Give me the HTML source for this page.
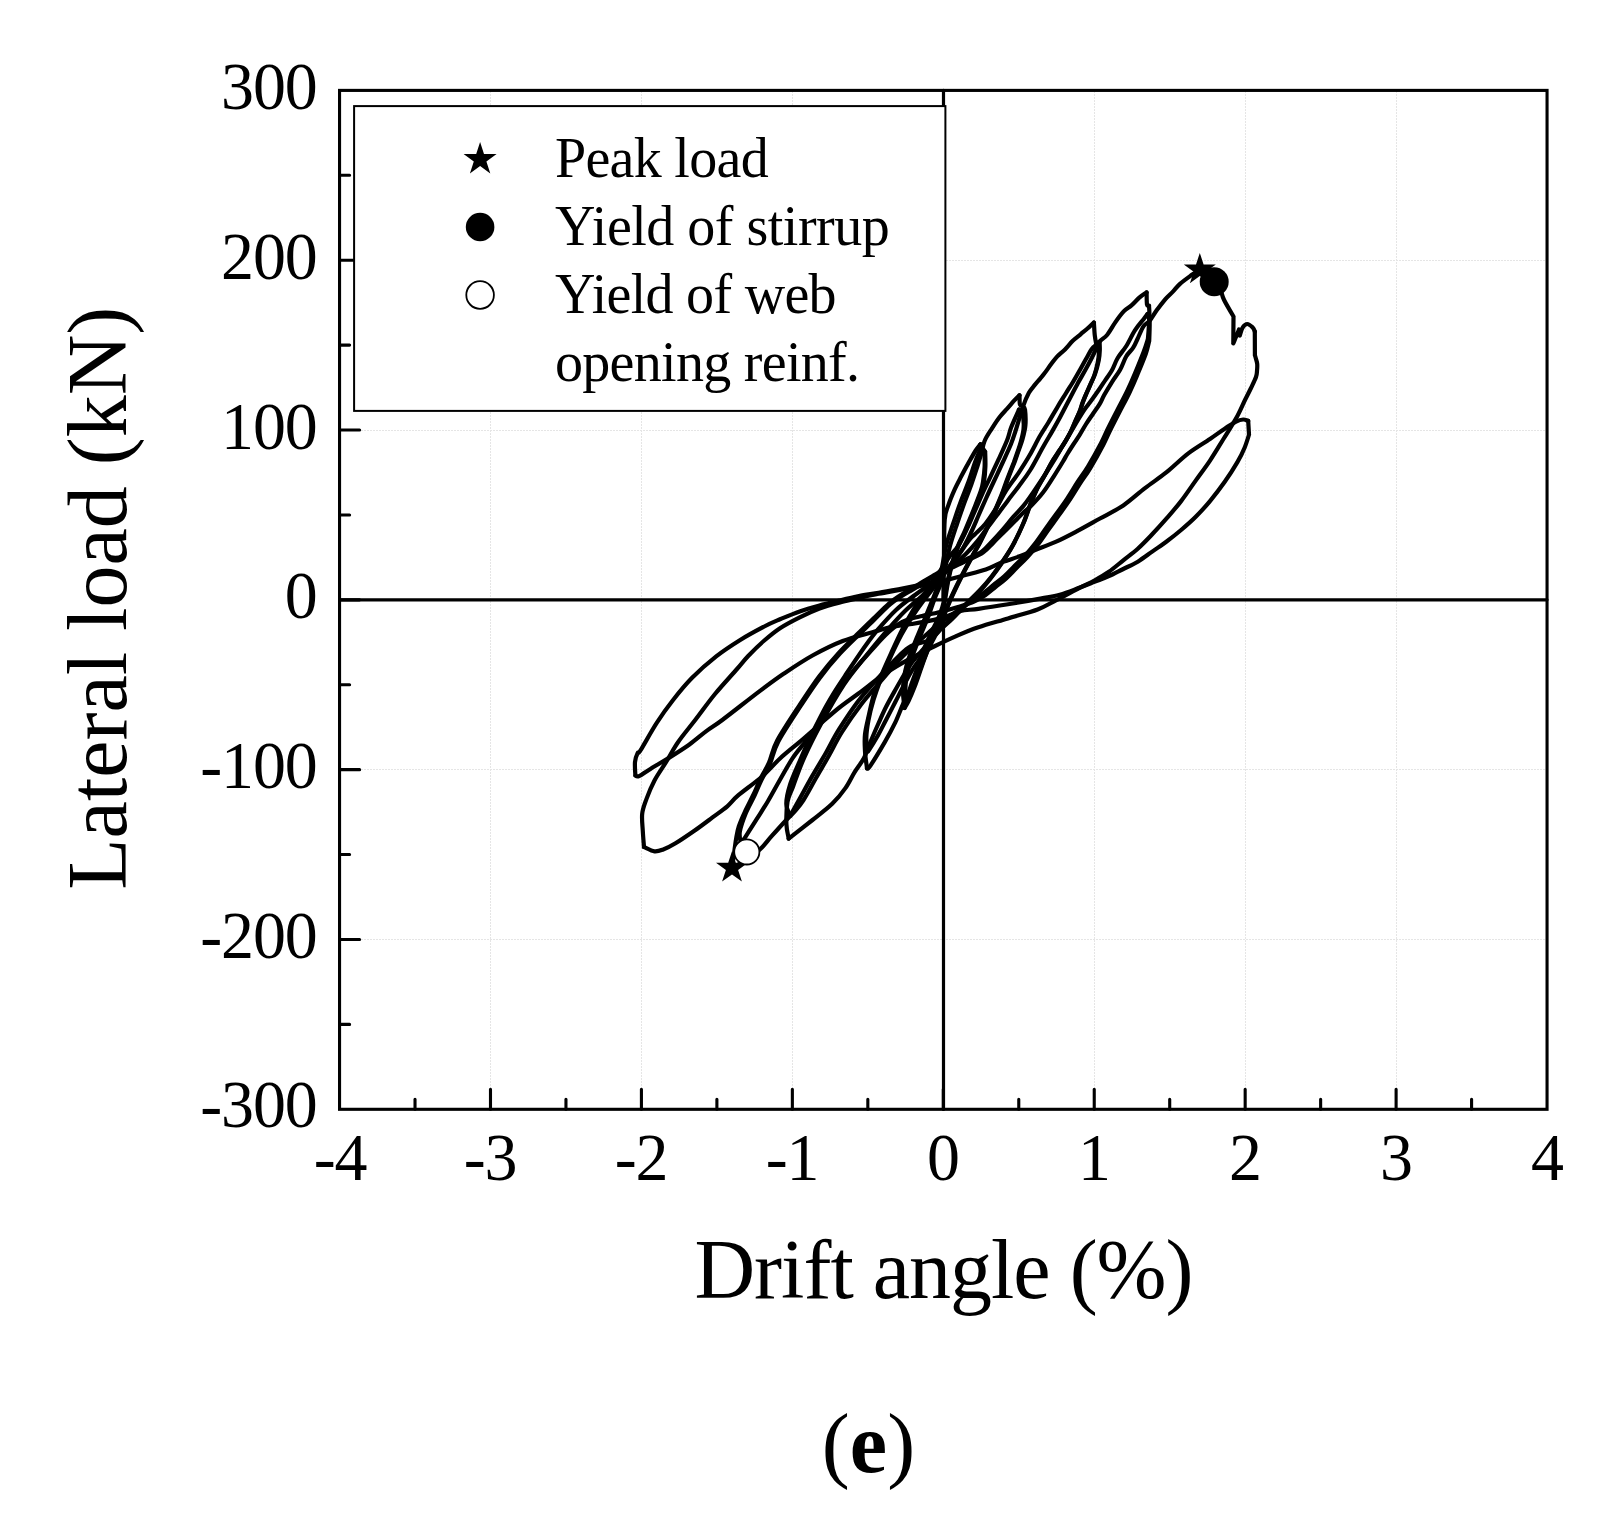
<!DOCTYPE html>
<html><head><meta charset="utf-8">
<style>
html,body{margin:0;padding:0;background:#fff;}
svg{display:block;}
text{font-family:"Liberation Serif",serif;fill:#000;}
</style></head><body>
<svg width="1622" height="1523" viewBox="0 0 1622 1523">
<rect width="1622" height="1523" fill="#fff"/>
<!-- GRID -->
<g id="grid" stroke="#e5e5e5" stroke-width="1" stroke-dasharray="2 1" fill="none" shape-rendering="crispEdges">
<path d="M490.5 91V1109M641.5 91V1109M792.5 91V1109M1094.5 91V1109M1245.5 91V1109M1396.5 91V1109"/>
<path d="M340 260.5H1547M340 430.5H1547M340 769.5H1547M340 939.5H1547"/>
</g>
<!-- AXES -->
<g id="axes" stroke="#000" stroke-width="3.1" fill="none" stroke-linecap="round">
<rect x="339.55" y="90.40" width="1207.50" height="1018.90" stroke-linejoin="miter"/>
<path d="M943.5 90.4V1109.3M339.6 599.85H1547.0" stroke-width="3.2"/>
<path d="M339.6 260.22h20M339.6 430.03h20M339.6 599.85h20M339.6 769.67h20M339.6 939.48h20"/>
<path d="M339.6 175.31h10M339.6 345.12h10M339.6 514.94h10M339.6 684.76h10M339.6 854.57h10M339.6 1024.39h10"/>
<path d="M490.49 1109.3v-20M641.42 1109.3v-20M792.36 1109.3v-20M943.30 1109.3v-20M1094.24 1109.3v-20M1245.17 1109.3v-20M1396.11 1109.3v-20"/>
<path d="M415.02 1109.3v-10M565.96 1109.3v-10M716.89 1109.3v-10M867.83 1109.3v-10M1018.77 1109.3v-10M1169.71 1109.3v-10M1320.64 1109.3v-10M1471.58 1109.3v-10"/>
</g>
<!-- CURVE -->
<g id="curve" stroke="#000" stroke-width="4.2" fill="none" stroke-linejoin="round" stroke-linecap="round">
<path d="M943.4 599.8C943.5 593.2 943.8 573.3 944.0 560.0C944.2 546.7 944.0 528.9 944.7 519.8C945.4 510.6 946.7 510.2 948.4 505.1C950.1 500.0 952.6 494.1 954.7 489.4C956.8 484.7 958.7 481.2 961.0 476.8C963.3 472.4 965.9 467.5 968.4 463.1C970.9 458.7 973.7 453.6 975.7 450.5C977.7 447.4 979.6 445.2 980.4 444.2"/>
<path d="M980.4 444.2C980.7 444.7 981.2 446.2 982.0 447.4C982.8 448.6 984.7 450.9 985.2 451.6M985.2 451.6C985.2 454.1 985.6 461.4 985.4 466.3C985.2 471.2 984.7 477.1 984.1 481.0C983.5 484.9 983.4 485.2 982.0 489.4C980.6 493.6 978.3 499.6 975.7 506.2C973.1 512.9 969.1 522.8 966.3 529.3C963.5 535.8 961.2 539.4 958.9 545.0C956.6 550.6 954.3 556.8 952.5 563.0C950.7 569.2 949.2 575.8 948.0 582.0C946.8 588.2 946.0 594.5 945.0 600.0C944.0 605.5 943.2 610.7 942.0 615.0C940.8 619.3 939.2 623.0 938.0 626.0C936.8 629.0 936.4 629.3 934.7 633.1C933.1 636.9 930.3 643.2 928.1 648.9C925.9 654.6 923.7 661.2 921.5 667.3C919.3 673.4 917.2 680.0 915.0 685.7C912.8 691.4 910.1 697.7 908.4 701.4C906.6 705.1 905.1 706.9 904.5 708.0"/>
<path d="M904.5 708.0C904.3 705.6 903.2 698.3 903.1 693.5C903.0 688.7 903.1 684.1 903.8 679.1C904.5 674.1 905.7 668.3 907.1 663.3C908.5 658.3 910.5 653.5 912.3 648.9C914.0 644.3 915.5 640.9 917.6 635.8C919.7 630.6 922.6 623.8 925.0 618.0C927.4 612.2 929.8 606.5 932.0 601.0C934.2 595.5 936.2 591.0 938.0 585.0C939.8 579.0 941.1 571.7 942.5 565.0C943.9 558.3 944.4 552.2 946.3 545.0C948.2 537.8 951.2 529.2 953.7 521.9C956.2 514.5 958.5 507.5 961.0 500.9C963.5 494.2 966.1 488.3 968.4 482.0C970.7 475.7 973.0 468.0 974.7 463.1C976.5 458.2 977.8 455.1 978.9 452.6C980.0 450.1 981.1 448.8 981.5 448.0"/>
<path d="M981.5 448.0L984.5 453.0M984.5 453.0C984.5 455.3 984.9 462.2 984.6 467.0C984.4 471.8 983.6 478.0 983.0 482.0C982.4 486.0 982.2 486.8 980.8 491.0C979.4 495.2 977.1 500.9 974.5 507.5C971.9 514.1 967.8 523.9 965.0 530.5C962.2 537.1 959.8 541.2 957.5 547.0C955.2 552.8 953.2 558.8 951.5 565.0C949.8 571.2 948.2 578.0 947.0 584.0C945.8 590.0 945.2 596.0 944.0 601.0C942.8 606.0 941.5 610.0 940.0 614.0C938.5 618.0 936.6 621.7 935.0 625.0C933.4 628.3 932.3 630.0 930.5 634.0C928.7 638.0 926.2 643.4 924.0 649.0C921.8 654.6 919.6 661.7 917.5 667.5C915.4 673.3 913.2 678.9 911.5 684.0C909.8 689.1 908.0 694.7 907.0 698.0C906.0 701.3 905.8 703.0 905.5 704.0"/>
<path d="M905.5 704.0C905.5 701.8 905.1 695.5 905.3 691.0C905.5 686.5 905.6 681.9 906.5 677.0C907.4 672.1 909.0 666.5 910.5 661.5C912.0 656.5 914.0 651.8 915.8 647.0C917.6 642.2 919.4 638.2 921.5 633.0C923.6 627.8 926.3 621.7 928.5 616.0C930.7 610.3 932.4 604.5 934.5 599.0C936.6 593.5 939.1 588.8 941.0 583.0C942.9 577.2 944.5 570.2 946.0 564.0C947.5 557.8 948.2 552.7 950.0 546.0C951.8 539.3 954.6 531.2 957.0 524.0C959.4 516.8 961.9 509.7 964.3 503.0C966.7 496.3 969.3 490.2 971.5 484.0C973.7 477.8 975.8 471.2 977.5 466.0C979.2 460.8 980.3 457.1 981.5 453.0C982.7 448.9 982.9 445.1 984.5 441.2C986.1 437.2 988.9 433.2 991.4 429.3C993.9 425.4 996.7 420.9 999.3 417.5C1001.9 414.1 1004.7 411.4 1007.2 408.6C1009.7 405.8 1012.1 402.9 1014.1 400.7C1016.1 398.5 1018.6 396.2 1019.5 395.3"/>
<path d="M1019.5 395.3C1019.6 396.9 1019.4 402.8 1020.0 404.7C1020.6 406.6 1022.5 406.3 1023.0 406.6M1023.0 406.6C1023.3 407.1 1024.6 406.5 1025.0 409.6C1025.4 412.7 1025.8 420.5 1025.4 425.4C1025.0 430.3 1023.6 435.1 1022.5 439.2C1021.4 443.3 1020.0 446.4 1018.8 450.0C1017.5 453.6 1016.2 457.7 1015.0 461.0C1013.8 464.3 1012.7 466.7 1011.4 470.0C1010.1 473.3 1008.6 477.2 1007.2 481.0C1005.8 484.8 1004.6 488.5 1003.0 492.5C1001.4 496.5 999.5 500.9 997.8 505.1C996.0 509.3 994.4 513.5 992.5 517.7C990.6 521.9 988.3 526.1 986.2 530.3C984.1 534.5 982.4 538.3 979.9 542.9C977.4 547.5 974.2 553.0 971.5 558.0C968.8 563.0 966.0 568.2 963.5 573.0C961.0 577.8 958.7 582.5 956.5 587.0C954.3 591.5 952.3 595.8 950.5 600.0C948.7 604.2 947.2 608.0 945.5 612.0C943.8 616.0 942.2 620.2 940.5 624.0C938.8 627.8 937.1 631.6 935.5 635.0C933.9 638.4 932.4 641.1 930.7 644.5C929.0 647.9 927.7 650.4 925.5 655.5C923.3 660.6 920.2 669.5 917.6 675.2C915.0 681.0 912.4 685.2 910.0 690.0C907.6 694.8 905.6 698.6 903.1 704.0C900.6 709.4 898.3 716.0 895.3 722.4C892.2 728.8 889.0 734.9 884.8 742.1C880.6 749.3 873.3 761.4 870.3 765.8C867.3 770.2 867.5 768.0 867.0 768.4"/>
<path d="M867.0 768.4C866.7 765.5 865.3 757.0 865.0 751.3C864.7 745.6 864.3 740.3 865.0 734.2C865.7 728.1 867.5 721.3 869.0 714.5C870.5 707.7 872.2 699.8 874.2 693.5C876.2 687.2 877.9 683.3 880.8 676.5C883.6 669.7 887.8 660.5 891.3 652.8C894.8 645.1 898.3 637.3 901.8 630.5C905.2 623.7 908.6 617.6 912.0 612.0C915.4 606.4 918.7 601.8 922.0 597.0C925.3 592.2 928.7 587.8 932.0 583.0C935.3 578.2 939.0 572.5 942.0 568.0C945.0 563.5 947.2 559.8 950.0 556.0C952.8 552.2 956.0 549.6 958.9 545.0C961.8 540.4 964.7 533.8 967.3 528.2C969.9 522.6 972.2 517.0 974.7 511.4C977.2 505.8 979.4 500.4 982.0 494.6C984.6 488.8 987.6 482.8 990.4 476.8C993.2 470.9 996.0 465.0 998.8 458.9C1001.6 452.8 1005.1 445.3 1007.2 440.0C1009.3 434.7 1009.2 432.4 1011.2 427.3C1013.2 422.2 1017.7 412.6 1019.0 409.6"/>
<path d="M1019.0 409.6C1019.6 410.3 1021.7 410.9 1022.5 414.0C1023.3 417.1 1023.9 423.5 1023.6 428.0C1023.4 432.5 1022.0 437.0 1021.0 441.0C1020.0 445.0 1018.7 448.4 1017.5 452.0C1016.3 455.6 1015.0 459.2 1013.8 462.5C1012.5 465.8 1011.3 468.7 1010.0 472.0C1008.7 475.3 1007.4 478.8 1006.0 482.5C1004.6 486.2 1003.4 490.0 1001.8 494.0C1000.2 498.0 998.4 502.4 996.6 506.6C994.9 510.8 993.2 515.0 991.3 519.2C989.4 523.4 987.1 527.6 985.0 531.8C982.9 536.0 981.2 539.8 978.7 544.4C976.2 549.0 973.0 554.5 970.3 559.5C967.6 564.5 964.8 569.7 962.3 574.5C959.8 579.3 957.4 584.1 955.3 588.5C953.2 592.9 951.3 596.9 949.5 601.0C947.7 605.1 946.2 609.1 944.5 613.0C942.8 616.9 941.2 620.7 939.3 624.5C937.4 628.3 935.2 632.1 933.0 636.0C930.8 639.9 928.3 644.0 926.0 648.0C923.7 652.0 921.3 656.3 919.0 660.0C916.7 663.7 914.7 666.0 912.3 670.0C909.9 674.0 907.3 678.7 904.5 684.0C901.7 689.3 898.4 696.0 895.3 702.0C892.2 708.0 888.9 714.5 886.0 720.0C883.1 725.5 881.0 730.0 878.2 735.0C875.4 740.0 870.8 747.3 869.0 750.0C867.2 752.7 867.9 751.1 867.7 751.3"/>
<path d="M867.7 751.3C867.5 749.1 866.2 743.2 866.3 738.0C866.4 732.8 867.3 726.3 868.5 720.0C869.7 713.7 871.5 706.7 873.5 700.0C875.5 693.3 877.7 687.2 880.5 680.0C883.3 672.8 887.0 664.6 890.5 657.0C894.0 649.4 897.8 641.4 901.5 634.5C905.2 627.6 909.2 621.2 913.0 615.5C916.8 609.8 920.4 604.8 924.0 600.0C927.6 595.2 931.0 591.1 934.5 586.5C938.0 581.9 941.8 576.8 945.0 572.5C948.2 568.2 950.6 564.4 953.5 560.5C956.4 556.6 959.6 553.7 962.5 549.0C965.4 544.3 968.3 538.1 971.0 532.5C973.7 526.9 976.0 521.2 978.5 515.5C981.0 509.8 983.4 504.3 986.0 498.5C988.6 492.7 991.5 486.5 994.3 480.5C997.1 474.5 999.9 468.6 1002.7 462.5C1005.5 456.4 1008.9 449.2 1011.0 444.0C1013.1 438.8 1013.5 437.2 1015.5 431.0C1017.5 424.8 1020.8 413.0 1023.0 406.6C1025.2 400.2 1026.9 396.4 1028.9 392.8C1030.9 389.2 1033.0 387.2 1034.8 384.9C1036.6 382.6 1038.4 380.7 1040.0 378.8C1041.6 376.9 1042.4 376.1 1044.3 373.6C1046.2 371.2 1049.0 367.0 1051.2 364.1C1053.4 361.2 1055.0 358.8 1057.3 356.3C1059.6 353.9 1062.4 352.0 1065.0 349.4C1067.6 346.8 1070.2 343.3 1072.8 340.8C1075.4 338.3 1078.0 336.5 1080.6 334.3C1083.2 332.1 1086.1 329.8 1088.3 327.8C1090.5 325.9 1093.0 323.5 1093.9 322.6"/>
<path d="M1093.9 322.6C1094.1 324.8 1094.4 332.1 1094.8 335.6C1095.2 339.1 1095.9 342.1 1096.1 343.4M1096.1 343.4L1099.6 341.6M1099.6 341.6C1099.6 343.1 1099.9 347.1 1099.8 350.3C1099.7 353.5 1099.5 356.7 1098.7 360.6C1097.9 364.5 1096.5 369.9 1095.2 373.6C1093.9 377.3 1092.4 379.9 1091.1 383.0C1089.8 386.1 1088.4 388.9 1087.1 392.0C1085.8 395.1 1084.3 398.6 1083.2 401.5C1082.1 404.4 1081.8 406.3 1080.6 409.4C1079.4 412.5 1077.4 416.6 1076.0 419.9C1074.6 423.2 1073.6 425.8 1072.0 429.1C1070.4 432.4 1068.4 436.1 1066.4 439.5C1064.4 442.9 1062.2 446.1 1060.0 449.5C1057.8 452.9 1055.5 455.8 1053.0 460.0C1050.5 464.2 1047.7 469.9 1045.0 474.7C1042.3 479.5 1039.3 484.3 1037.0 489.0C1034.7 493.7 1033.2 497.5 1031.0 503.0C1028.8 508.5 1026.9 515.2 1024.0 522.0C1021.1 528.8 1017.0 537.5 1013.5 544.0C1010.0 550.5 1006.6 555.5 1003.0 560.8C999.4 566.1 995.7 571.3 992.0 576.0C988.3 580.7 984.7 585.0 981.0 589.0C977.3 593.0 973.5 596.5 970.0 600.0C966.5 603.5 963.2 606.8 960.0 610.0C956.8 613.2 953.8 616.3 951.0 619.0C948.2 621.7 946.3 623.2 943.5 626.0C940.7 628.8 937.1 632.5 934.0 636.0C930.9 639.5 928.6 642.7 925.0 647.0C921.4 651.3 915.7 657.5 912.3 662.0C908.9 666.5 907.3 669.3 904.5 674.0C901.7 678.7 898.4 684.5 895.3 690.0C892.2 695.5 888.9 701.3 886.0 707.0C883.1 712.7 880.9 718.0 878.2 724.0C875.5 730.0 872.4 737.3 870.0 743.0C867.6 748.7 866.6 753.1 864.0 758.0C861.4 762.9 857.6 767.3 854.5 772.3C851.4 777.3 849.1 782.9 845.4 788.1C841.7 793.4 837.7 798.5 832.2 803.8C826.7 809.1 819.8 814.2 812.5 820.0C805.2 825.8 792.7 835.5 788.7 838.6"/>
<path d="M788.7 838.6C788.3 836.2 786.6 830.2 786.4 824.1C786.2 818.0 786.4 808.3 787.5 802.0C788.6 795.7 790.3 793.8 793.1 786.4C795.9 779.0 799.4 768.3 804.2 757.6C809.0 746.9 815.4 734.2 822.0 722.0C828.6 709.8 836.7 695.4 844.1 684.3C851.5 673.2 858.9 664.8 866.3 655.5C873.7 646.2 882.0 636.2 888.5 628.8C895.0 621.4 899.4 616.5 905.0 611.0C910.6 605.5 916.5 601.0 922.0 596.0C927.5 591.0 932.8 586.5 938.0 581.0C943.2 575.5 947.9 569.7 953.0 563.0C958.1 556.3 964.8 545.6 968.4 540.9C972.0 536.1 971.9 537.3 974.7 534.5C977.5 531.7 981.5 528.5 985.2 524.0C988.9 519.5 993.2 512.8 996.7 507.2C1000.2 501.6 1002.5 496.2 1006.2 490.4C1009.9 484.6 1014.9 478.4 1018.8 472.6C1022.6 466.8 1025.8 461.9 1029.3 455.8C1032.8 449.8 1036.6 441.9 1039.8 436.3C1043.0 430.8 1045.4 427.4 1048.4 422.5C1051.4 417.6 1054.6 411.7 1057.6 406.8C1060.5 401.9 1063.6 397.1 1066.1 393.0C1068.6 388.9 1070.4 386.3 1072.7 382.5C1075.0 378.7 1077.7 373.9 1079.9 370.0C1082.1 366.1 1084.0 362.5 1086.0 359.0C1088.0 355.5 1090.1 351.3 1091.8 349.0C1093.5 346.7 1095.4 345.7 1096.1 345.0"/>
<path d="M1096.1 345.0C1096.5 346.2 1098.5 349.1 1098.8 352.0C1099.1 354.9 1098.5 358.7 1097.7 362.6C1096.9 366.5 1095.5 371.9 1094.2 375.6C1092.9 379.3 1091.4 381.9 1090.1 385.0C1088.8 388.1 1087.4 390.9 1086.1 394.0C1084.8 397.1 1083.3 400.6 1082.2 403.5C1081.1 406.4 1080.8 408.3 1079.6 411.4C1078.4 414.5 1076.4 418.6 1075.0 421.9C1073.6 425.2 1072.6 427.8 1071.0 431.1C1069.4 434.4 1067.4 438.1 1065.4 441.5C1063.4 444.9 1061.2 448.1 1059.0 451.5C1056.8 454.9 1054.5 457.8 1052.0 462.0C1049.5 466.2 1046.7 471.9 1044.0 476.7C1041.3 481.5 1038.3 486.3 1036.0 491.0C1033.7 495.7 1032.2 499.5 1030.0 505.0C1027.8 510.5 1025.9 517.2 1023.0 524.0C1020.1 530.8 1016.0 539.5 1012.5 546.0C1009.0 552.5 1005.6 557.5 1002.0 562.8C998.4 568.1 994.7 573.3 991.0 578.0C987.3 582.7 983.7 587.0 980.0 591.0C976.3 595.0 972.5 598.5 969.0 602.0C965.5 605.5 962.2 608.8 959.0 612.0C955.8 615.2 952.8 618.3 950.0 621.0C947.2 623.7 945.3 624.9 942.0 628.0C938.7 631.1 935.2 636.7 930.0 639.7C924.8 642.7 916.4 643.1 911.0 646.0C905.6 648.9 903.4 651.7 897.9 657.0C892.4 662.3 884.8 670.7 878.2 678.0C871.6 685.3 865.1 692.2 858.5 700.8C851.9 709.4 844.3 721.0 838.8 729.7C833.3 738.5 830.1 745.6 825.7 753.3C821.3 760.9 816.9 767.9 812.5 775.6C808.1 783.3 803.1 792.6 799.4 799.3C795.7 806.0 791.7 813.0 790.2 815.7"/>
<path d="M790.2 815.7C789.6 813.7 786.3 809.0 786.3 803.8C786.3 798.5 788.0 791.2 790.2 784.2C792.4 777.2 796.1 769.5 799.4 761.8C802.7 754.1 806.0 746.5 809.9 738.2C813.8 729.9 819.1 719.4 823.0 711.9C826.9 704.4 829.8 699.6 833.5 693.5C837.2 687.4 840.1 683.1 845.4 675.2C850.7 667.3 859.6 654.0 865.1 646.3C870.6 638.6 873.1 635.2 878.2 629.2C883.4 623.2 889.9 615.7 896.0 610.0C902.1 604.3 908.8 599.7 915.0 595.0C921.2 590.3 927.2 586.5 933.0 582.0C938.8 577.5 944.5 572.8 950.0 568.0C955.5 563.2 961.8 557.9 966.3 553.5C970.8 549.1 973.5 545.9 976.8 541.9C980.1 537.9 982.9 533.7 986.2 529.3C989.5 524.9 993.0 520.5 996.7 515.6C1000.4 510.7 1004.6 504.8 1008.3 499.9C1012.0 495.0 1015.2 491.1 1018.8 486.2C1022.4 481.3 1026.0 476.9 1030.0 470.5C1034.0 464.1 1039.2 453.9 1042.8 447.5C1046.4 441.1 1048.6 437.6 1051.6 432.4C1054.6 427.1 1057.8 421.5 1060.7 416.0C1063.7 410.5 1066.5 404.8 1069.3 399.5C1072.0 394.2 1074.5 389.3 1077.2 384.4C1079.9 379.5 1082.9 374.3 1085.3 370.0C1087.7 365.7 1089.7 362.0 1091.5 358.5C1093.3 355.0 1094.7 351.8 1096.0 349.0C1097.3 346.2 1097.7 344.0 1099.6 341.6C1101.5 339.2 1104.7 337.9 1107.3 334.7C1109.9 331.5 1112.4 326.5 1115.1 322.6C1117.8 318.7 1121.0 314.3 1123.7 311.4C1126.4 308.5 1128.9 307.7 1131.5 305.4C1134.1 303.1 1136.8 299.8 1139.3 297.6C1141.8 295.4 1145.4 293.3 1146.6 292.4"/>
<path d="M1146.6 292.4C1146.7 294.4 1146.6 302.3 1147.0 304.5C1147.4 306.7 1148.7 305.3 1149.0 305.5M1149.0 305.5C1149.1 307.5 1149.6 311.9 1149.4 317.5C1149.2 323.1 1148.2 335.4 1147.9 339.0M1147.9 339.0C1147.2 341.2 1145.8 346.2 1143.6 352.0C1141.4 357.8 1137.6 367.1 1134.9 373.6C1132.2 380.1 1130.1 384.9 1127.2 391.0C1124.3 397.1 1120.7 403.6 1117.4 410.0C1114.1 416.4 1110.2 424.0 1107.5 429.5C1104.8 435.0 1104.2 437.1 1101.0 443.2C1097.8 449.3 1092.0 459.8 1088.1 466.3C1084.2 472.8 1081.1 476.6 1077.6 482.0C1074.1 487.4 1070.5 493.6 1067.0 498.8C1063.5 504.1 1060.1 508.6 1056.6 513.5C1053.1 518.4 1049.5 523.3 1046.0 528.2C1042.5 533.1 1039.0 538.4 1035.5 543.0C1032.0 547.6 1028.5 551.8 1025.0 555.6C1021.5 559.4 1018.0 562.5 1014.5 566.0C1011.0 569.5 1007.5 573.4 1004.0 576.6C1000.5 579.8 997.0 582.2 993.5 585.0C990.0 587.8 986.6 590.7 983.0 593.4C979.4 596.1 975.8 598.4 972.0 601.0C968.2 603.6 963.9 606.3 960.0 609.0C956.1 611.7 952.8 614.2 948.8 617.0C944.8 619.8 941.6 621.3 936.0 626.0C930.4 630.7 921.0 639.5 915.0 645.0C909.0 650.5 905.7 653.0 900.0 659.0C894.3 665.0 887.4 673.5 881.0 681.0C874.6 688.5 868.0 695.5 861.5 704.0C855.0 712.5 847.4 723.4 842.0 732.0C836.6 740.6 833.3 747.8 829.0 755.5C824.7 763.2 820.2 770.6 816.0 778.0C811.8 785.4 807.0 794.5 803.5 800.0C800.0 805.5 797.9 807.7 795.0 811.0C792.1 814.3 790.2 815.8 786.3 820.0C782.4 824.2 775.9 831.4 771.6 836.2C767.3 841.0 764.7 845.0 760.4 849.0C756.1 853.0 750.7 856.8 746.0 860.0C741.3 863.2 734.3 866.7 732.0 868.0"/>
<path d="M732.0 868.0C732.4 865.0 733.8 855.0 734.5 850.0C735.2 845.0 735.6 841.6 736.3 837.7C737.0 833.8 737.4 830.8 738.8 826.5C740.2 822.2 742.4 817.1 744.9 811.8C747.4 806.5 750.9 800.0 753.5 794.5C756.1 789.0 757.8 784.3 760.4 779.0C763.0 773.7 766.2 769.0 769.0 762.6C771.8 756.2 772.0 750.3 777.1 740.8C782.2 731.3 792.4 716.1 799.4 705.4C806.4 694.7 812.5 685.3 819.1 676.5C825.7 667.7 832.2 660.0 838.8 652.8C845.4 645.6 852.8 638.7 858.5 633.1C864.2 627.5 867.8 623.9 872.9 619.0C878.0 614.1 884.5 607.4 889.0 603.5C893.5 599.6 896.2 598.0 900.0 595.5C903.8 593.0 908.0 590.9 912.0 588.5C916.0 586.1 920.0 583.4 924.0 581.0C928.0 578.6 931.7 576.3 936.0 574.0C940.3 571.7 945.0 569.4 950.0 567.0C955.0 564.6 960.7 562.1 966.0 559.5C971.3 556.9 977.6 554.5 982.0 551.4C986.4 548.3 989.0 544.6 992.5 540.9C996.0 537.2 999.5 533.3 1003.0 529.3C1006.5 525.3 1010.0 520.7 1013.5 516.7C1017.0 512.7 1020.5 509.5 1024.0 505.1C1027.5 500.7 1031.0 495.5 1034.5 490.4C1038.0 485.3 1041.5 480.1 1045.0 474.7C1048.5 469.3 1052.8 462.5 1055.6 457.9C1058.4 453.3 1059.9 450.5 1062.0 447.0C1064.1 443.5 1065.8 440.7 1068.0 437.0C1070.2 433.3 1072.6 429.1 1075.0 425.0C1077.4 420.9 1080.6 415.7 1082.5 412.7C1084.4 409.7 1084.8 409.1 1086.5 406.8C1088.2 404.5 1090.3 401.8 1092.4 398.9C1094.5 396.0 1096.7 392.9 1098.9 389.7C1101.1 386.5 1103.3 383.1 1105.5 379.8C1107.7 376.5 1110.1 373.6 1112.1 370.0C1114.1 366.4 1115.3 362.0 1117.7 358.0C1120.1 354.0 1123.4 350.6 1126.3 346.0C1129.2 341.4 1132.0 334.9 1134.9 330.4C1137.8 325.9 1141.5 321.9 1143.6 319.2C1145.7 316.5 1146.8 314.9 1147.5 314.0"/>
<path d="M1147.5 314.0C1147.8 315.3 1149.3 317.5 1149.6 322.0C1149.9 326.5 1149.3 337.8 1149.2 341.0M1149.2 341.0C1148.6 343.1 1147.8 348.1 1145.8 353.8C1143.8 359.5 1139.8 368.9 1137.1 375.4C1134.4 381.9 1132.3 386.7 1129.4 392.8C1126.5 398.9 1122.9 405.4 1119.6 411.8C1116.3 418.2 1112.4 425.8 1109.7 431.3C1107.0 436.8 1106.4 438.9 1103.2 445.0C1100.0 451.1 1094.2 461.6 1090.3 468.1C1086.4 474.6 1083.3 478.4 1079.8 483.8C1076.3 489.2 1072.7 495.4 1069.2 500.6C1065.7 505.9 1062.3 510.4 1058.8 515.3C1055.3 520.2 1051.7 525.1 1048.2 530.0C1044.7 534.9 1041.2 540.2 1037.7 544.8C1034.2 549.4 1030.7 553.6 1027.2 557.4C1023.7 561.2 1020.2 564.3 1016.7 567.8C1013.2 571.3 1009.7 575.2 1006.2 578.4C1002.7 581.6 999.2 584.0 995.7 586.8C992.2 589.6 988.8 592.7 985.2 595.2C981.6 597.6 978.5 599.5 974.0 601.5C969.5 603.5 963.7 605.2 958.0 607.0C952.3 608.8 946.0 610.5 940.0 612.0C934.0 613.5 927.3 614.8 922.0 616.0C916.7 617.2 912.0 618.1 908.0 619.5C904.0 620.9 901.8 621.9 897.9 624.6C894.0 627.3 889.2 631.5 884.8 635.8C880.4 640.1 877.1 644.1 871.6 650.2C866.1 656.3 858.5 664.2 851.9 672.5C845.3 680.8 837.7 691.8 832.2 700.1C826.7 708.4 823.5 715.6 819.1 722.4C814.7 729.2 810.4 734.9 806.0 740.8C801.6 746.7 797.2 751.3 792.8 757.9C788.4 764.5 783.9 773.0 779.7 780.2C775.6 787.4 771.7 794.8 767.9 801.2C764.1 807.6 760.8 812.6 757.0 818.7C753.2 824.8 747.6 833.5 744.9 837.7C742.2 841.9 741.6 843.0 741.0 844.0"/>
<path d="M741.0 844.0C740.8 842.0 739.0 837.2 739.8 832.0C740.6 826.8 743.4 819.1 745.9 813.0C748.4 806.9 751.9 801.1 754.5 795.6C757.1 790.1 758.8 785.3 761.4 780.0C764.0 774.7 767.2 770.0 770.0 763.6C772.8 757.2 773.1 751.3 778.2 741.7C783.3 732.1 793.5 716.9 800.5 706.2C807.5 695.5 813.6 686.1 820.2 677.4C826.8 668.6 833.3 660.9 839.9 653.7C846.5 646.5 853.9 639.6 859.6 634.0C865.3 628.4 868.9 624.8 874.0 619.9C879.1 615.0 885.5 608.4 890.0 604.5C894.5 600.6 897.2 599.0 901.0 596.5C904.8 594.0 909.0 591.9 913.0 589.5C917.0 587.1 921.0 584.4 925.0 582.0C929.0 579.6 932.7 577.3 937.0 575.0C941.3 572.7 946.0 570.4 951.0 568.0C956.0 565.6 961.7 563.1 967.0 560.5C972.3 557.9 978.6 555.6 983.0 552.6C987.4 549.6 990.0 545.9 993.6 542.4C997.2 538.9 1000.9 535.1 1004.5 531.5C1008.1 527.9 1011.8 524.2 1015.0 521.0C1018.2 517.8 1021.3 514.6 1024.0 512.0C1026.7 509.4 1028.2 508.8 1031.4 505.5C1034.6 502.2 1039.3 497.3 1043.0 492.5C1046.7 487.7 1050.2 482.0 1053.5 476.8C1056.8 471.6 1060.8 465.2 1063.0 461.5C1065.2 457.8 1065.3 457.3 1067.0 454.5C1068.7 451.7 1071.3 447.6 1073.3 444.5C1075.3 441.4 1077.1 439.0 1079.2 435.7C1081.3 432.4 1083.6 428.0 1085.8 424.5C1088.0 421.0 1090.1 418.1 1092.4 414.7C1094.7 411.3 1097.6 407.4 1099.6 404.1C1101.6 400.8 1102.1 398.7 1104.2 395.0C1106.3 391.3 1109.5 386.0 1112.1 381.8C1114.7 377.6 1117.6 374.2 1120.0 370.0C1122.4 365.8 1124.1 360.0 1126.3 356.3C1128.5 352.6 1131.3 350.6 1133.2 347.7C1135.1 344.8 1135.8 342.6 1137.5 339.0C1139.2 335.4 1141.6 329.1 1143.6 326.1C1145.6 323.1 1147.4 323.5 1149.6 320.9C1151.8 318.3 1153.9 314.2 1156.5 310.6C1159.1 307.0 1162.5 302.5 1165.2 299.3C1167.9 296.1 1170.4 294.2 1172.9 291.6C1175.4 289.0 1176.8 286.6 1180.0 283.8C1183.2 281.0 1188.6 277.2 1191.9 274.8C1195.2 272.4 1198.5 270.6 1199.8 269.7M1199.8 269.7C1202.2 271.7 1210.6 278.0 1214.2 281.8C1217.8 285.6 1220.3 290.7 1221.5 292.5M1221.5 292.5C1221.9 293.8 1222.1 296.0 1224.1 300.0C1226.1 304.0 1231.9 313.8 1233.5 316.5M1233.5 316.5L1233.3 343.3M1233.3 343.3C1233.8 342.2 1235.0 339.3 1236.0 337.0C1237.0 334.7 1238.5 330.8 1239.0 329.5M1239.0 329.5L1239.8 335.5M1239.8 335.5C1240.3 334.2 1241.3 329.5 1242.6 327.6C1243.8 325.7 1245.6 324.0 1247.3 324.0C1249.0 324.0 1251.5 326.4 1252.8 327.6C1254.0 328.9 1254.5 330.9 1254.8 331.5"/>
<path d="M1254.8 331.5L1254.9 355.2M1254.9 355.2C1255.1 355.8 1255.6 357.5 1256.0 359.0C1256.4 360.5 1257.0 362.0 1257.2 364.0C1257.4 366.0 1257.2 368.8 1257.0 371.0C1256.8 373.2 1257.0 374.2 1256.0 377.0C1255.0 379.8 1252.8 384.2 1251.0 388.0C1249.2 391.8 1247.3 395.4 1245.0 400.0C1242.7 404.6 1240.8 409.6 1237.4 415.9C1234.0 422.1 1229.0 430.1 1224.4 437.5C1219.8 444.9 1214.8 453.4 1210.0 460.6C1205.2 467.8 1200.3 474.1 1195.5 480.9C1190.7 487.6 1185.9 494.9 1181.1 501.1C1176.3 507.4 1171.4 512.9 1166.6 518.4C1161.8 523.9 1157.0 529.2 1152.2 534.3C1147.4 539.3 1142.6 544.4 1137.8 548.7C1133.0 553.0 1128.1 556.4 1123.3 560.3C1118.5 564.1 1113.7 568.4 1108.9 571.8C1104.1 575.2 1099.2 577.9 1094.4 580.5C1089.6 583.1 1086.3 584.5 1080.0 587.7C1073.7 590.9 1063.9 596.3 1056.8 599.9C1049.7 603.5 1045.7 606.4 1037.6 609.5C1029.5 612.6 1017.9 615.4 1008.0 618.4C998.1 621.4 987.0 624.3 978.4 627.3C969.8 630.2 963.6 632.9 956.2 636.1C948.8 639.3 941.5 642.8 934.0 646.5C926.5 650.2 919.2 653.6 911.0 658.1C902.8 662.6 893.5 667.9 884.8 673.8C876.0 679.7 866.2 687.8 858.5 693.5C850.8 699.2 845.4 702.8 838.8 708.0C832.2 713.2 825.7 719.3 819.1 725.0C812.5 730.7 805.9 736.6 799.4 742.1C792.9 747.6 786.6 752.4 780.3 758.2C774.0 764.0 768.8 770.5 761.8 776.7C754.8 782.9 744.1 790.3 738.4 795.2C732.6 800.1 731.6 802.6 727.3 806.3C723.0 810.0 718.0 813.3 712.5 817.4C707.0 821.5 700.2 826.7 694.0 831.0C687.8 835.3 680.6 840.2 675.5 843.3C670.4 846.4 666.7 848.2 663.2 849.5C659.7 850.8 657.7 851.7 654.5 851.3C651.3 850.9 645.8 847.7 644.0 847.0"/>
<path d="M644.0 847.0C643.8 844.3 643.1 836.5 642.8 831.0C642.5 825.5 641.6 819.1 642.2 813.7C642.8 808.4 644.5 804.5 646.5 798.9C648.5 793.3 651.1 786.8 654.5 780.4C657.9 774.0 663.0 767.1 666.9 760.7C670.8 754.3 673.3 749.0 678.0 742.2C682.7 735.4 689.0 728.0 695.2 720.0C701.4 712.0 708.0 702.5 715.0 694.0C722.0 685.5 731.5 675.3 737.0 669.0C742.5 662.7 743.7 660.8 748.2 656.0C752.8 651.2 759.0 645.1 764.3 640.5C769.6 635.9 774.1 632.1 780.0 628.2C785.9 624.3 793.1 620.6 799.7 617.3C806.3 614.0 812.9 611.0 819.5 608.5C826.1 606.0 832.6 604.3 839.2 602.6C845.8 600.9 852.3 599.6 858.9 598.1C865.5 596.6 872.0 595.1 878.6 593.8C885.2 592.5 891.8 591.4 898.4 590.2C905.0 589.0 912.2 587.6 918.1 586.5C924.0 585.4 929.9 584.4 934.0 583.5C938.1 582.6 938.1 582.3 943.0 581.0C947.9 579.7 956.5 577.4 963.6 575.5C970.7 573.6 979.2 571.8 985.8 569.5C992.4 567.2 997.5 564.0 1003.0 561.9C1008.5 559.8 1013.5 558.5 1018.8 556.6C1024.0 554.7 1028.4 552.8 1034.5 550.3C1040.6 547.8 1048.6 545.0 1055.6 541.9C1062.6 538.8 1069.2 535.3 1076.6 531.4C1084.0 527.5 1092.2 522.8 1100.0 518.5C1107.8 514.2 1115.8 510.5 1123.3 505.4C1130.8 500.3 1137.8 493.6 1145.0 488.1C1152.2 482.6 1159.4 478.0 1166.6 472.2C1173.8 466.4 1181.1 458.9 1188.3 453.4C1195.5 447.9 1204.0 443.1 1210.0 439.0C1216.0 434.9 1220.1 431.8 1224.4 428.9C1228.7 426.0 1232.9 423.3 1236.0 421.7C1239.1 420.1 1241.2 419.6 1243.2 419.5C1245.2 419.4 1247.4 420.7 1248.2 420.9"/>
<path d="M1248.2 420.9L1249.0 434.7M1249.0 434.7C1248.3 436.9 1246.5 443.1 1244.6 447.7C1242.7 452.3 1240.8 456.3 1237.4 462.1C1234.0 467.9 1229.0 475.8 1224.4 482.3C1219.8 488.8 1214.8 495.3 1210.0 501.1C1205.2 506.9 1200.3 512.2 1195.5 517.0C1190.7 521.8 1185.9 525.9 1181.1 530.0C1176.3 534.1 1171.4 537.9 1166.6 541.5C1161.8 545.1 1157.0 548.2 1152.2 551.6C1147.4 555.0 1142.6 558.8 1137.8 561.7C1133.0 564.6 1128.1 566.6 1123.3 569.0C1118.5 571.4 1113.7 574.1 1108.9 576.2C1104.1 578.4 1099.2 580.0 1094.4 581.9C1089.6 583.8 1085.8 585.4 1080.0 587.5C1074.2 589.6 1066.9 592.8 1059.8 594.7C1052.7 596.6 1046.2 597.5 1037.6 599.1C1029.0 600.7 1017.9 602.7 1008.0 604.3C998.1 605.9 986.3 607.7 978.4 608.8C970.5 609.9 965.5 609.9 960.6 611.0C955.7 612.1 953.2 613.9 948.8 615.4C944.4 616.9 940.2 618.5 934.0 619.9C927.8 621.3 918.9 622.8 911.8 624.0C904.7 625.2 898.0 625.6 891.3 627.0C884.6 628.4 879.7 630.2 871.6 632.5C863.5 634.8 852.6 637.2 842.7 641.0C832.9 644.8 822.4 650.0 812.5 655.5C802.6 661.0 792.4 667.9 783.6 673.8C774.9 679.7 770.2 683.2 760.0 690.9C749.8 698.6 731.2 713.3 722.3 720.0C713.3 726.7 711.8 727.0 706.3 731.1C700.8 735.2 695.3 740.3 689.1 744.7C682.9 749.1 675.7 753.6 669.3 757.6C662.9 761.6 655.8 765.6 650.8 768.7C645.8 771.8 641.7 775.0 639.1 776.1C636.5 777.2 636.0 775.6 635.4 775.5"/>
<path d="M635.4 775.5C635.3 773.2 634.6 765.7 635.0 762.0C635.4 758.3 636.6 755.1 637.6 753.1C638.6 751.1 637.6 755.0 640.8 749.9C644.0 744.8 651.5 731.0 656.9 722.7C662.2 714.4 667.0 707.7 672.9 700.2C678.8 692.7 684.9 685.1 692.1 677.8C699.3 670.5 708.2 662.7 716.2 656.4C724.2 650.1 732.2 645.0 740.2 640.0C748.2 635.0 757.7 630.0 764.3 626.5C770.9 623.0 774.1 621.8 780.0 619.3C785.9 616.8 793.1 613.7 799.7 611.4C806.3 609.1 812.9 607.3 819.5 605.5C826.1 603.7 832.6 602.2 839.2 600.6C845.8 599.0 852.3 597.4 858.9 596.1C865.5 594.8 872.0 593.9 878.6 592.7C885.2 591.6 891.8 590.4 898.4 589.2C905.0 588.0 912.5 586.5 918.1 585.3C923.7 584.1 928.4 583.0 932.0 582.0C935.6 581.0 938.7 579.9 940.0 579.5"/>
</g>
<!-- MARKERS -->
<g id="markers">
<polygon points="1199.8,252.9 1203.6,264.5 1215.8,264.5 1205.9,271.7 1209.7,283.3 1199.8,276.1 1189.9,283.3 1193.7,271.7 1183.8,264.5 1196.0,264.5" fill="#000"/>
<circle cx="1214.2" cy="281.8" r="14.5" fill="#000"/>
<polygon points="732.0,851.2 735.8,862.8 748.0,862.8 738.1,870.0 741.9,881.6 732.0,874.4 722.1,881.6 725.9,870.0 716.0,862.8 728.2,862.8" fill="#000"/>
<circle cx="746.8" cy="851.9" r="12.6" fill="#fff" stroke="#000" stroke-width="1.8"/>
</g>
<!-- LEGEND -->
<g id="legend">
<rect x="354.1" y="106.1" width="591.3" height="304.8" fill="#fff" stroke="#000" stroke-width="2"/>
<polygon points="480.1,142.1 484.0,154.1 496.6,154.1 486.4,161.6 490.3,173.6 480.1,166.1 469.9,173.6 473.8,161.6 463.6,154.1 476.2,154.1" fill="#000"/>
<circle cx="480.1" cy="227" r="14.3" fill="#000"/>
<circle cx="480.1" cy="295" r="13.8" fill="#fff" stroke="#000" stroke-width="1.8"/>
<text x="555" y="177" font-size="56" letter-spacing="-0.7">Peak load</text>
<text x="555" y="245" font-size="56" letter-spacing="-0.5">Yield of stirrup</text>
<text x="555" y="313" font-size="56" letter-spacing="-0.7">Yield of web</text>
<text x="555" y="380.5" font-size="56" letter-spacing="-0.7">opening reinf.</text>
</g>
<!-- TICK LABELS -->
<g id="ylabels" font-size="68" text-anchor="end" letter-spacing="-1.2" transform="scale(0.97 1)">
<text x="326.3" y="109">300</text>
<text x="326.3" y="279">200</text>
<text x="326.3" y="449">100</text>
<text x="326.3" y="618">0</text>
<text x="326.3" y="788">-100</text>
<text x="326.3" y="958">-200</text>
<text x="326.3" y="1127">-300</text>
</g>
<g id="xlabels" font-size="68" text-anchor="middle" letter-spacing="-1.2" transform="scale(0.97 1)">
<text x="350.5" y="1180">-4</text>
<text x="505.2" y="1180">-3</text>
<text x="660.8" y="1180">-2</text>
<text x="816.5" y="1180">-1</text>
<text x="972.2" y="1180">0</text>
<text x="1127.8" y="1180">1</text>
<text x="1283.5" y="1180">2</text>
<text x="1439.2" y="1180">3</text>
<text x="1594.8" y="1180">4</text>
</g>
<!-- TITLES -->
<text id="xtitle" x="943.5" y="1298" font-size="84" text-anchor="middle" letter-spacing="-1">Drift angle (%)</text>
<text id="ytitle" transform="translate(125.5 598.2) rotate(-90)" font-size="84" text-anchor="middle">Lateral load (kN)</text>
<text id="cap" x="868.5" y="1472" font-size="84" text-anchor="middle">(<tspan font-weight="bold">e</tspan>)</text>
</svg>
</body></html>
